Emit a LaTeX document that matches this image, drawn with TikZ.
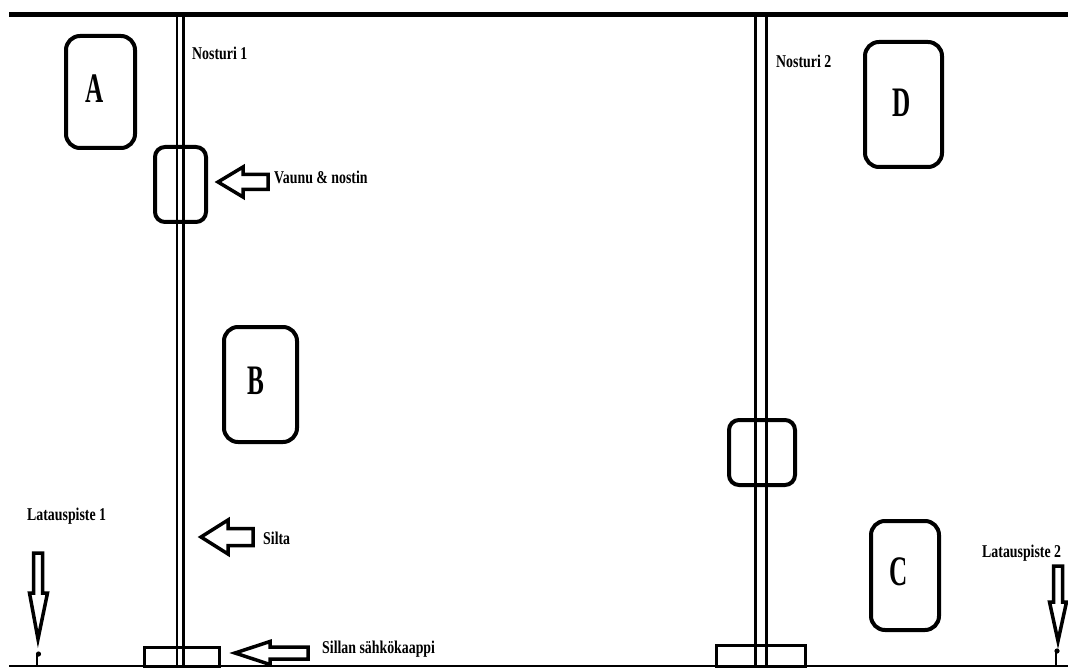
\documentclass[tikz,border=0pt]{standalone}
\usepackage{fontspec}
\newfontfamily\lblfont{Liberation Serif}[FakeStretch=0.77]
\newfontfamily\letfont{Liberation Serif}[FakeStretch=0.6]
\begin{document}
\begin{tikzpicture}[x=1pt,y=-1pt,
  rail/.style={line width=5pt},
  ground/.style={line width=2pt},
  beam/.style={line width=2.5pt},
  area/.style={draw,line width=4pt,rounded corners=14pt,minimum width=#1,inner sep=0pt},
  trolley/.style={draw,line width=4pt,rounded corners=10pt,inner sep=0pt},
  basebox/.style={draw,line width=3pt,inner sep=0pt},
  pointer/.style={line width=3.5pt,line join=miter},
  lbl/.style={inner sep=0pt,anchor=base west,font=\lblfont\bfseries\fontsize{18}{18}\selectfont},
  letter/.style={inner sep=0pt,anchor=base,font=\letfont\bfseries\fontsize{42}{42}\selectfont},
  pin/.style={line width=2pt}
]
\useasboundingbox (0,0) rectangle (1068,668);
\fill[white] (0,0) rectangle (1068,668);

% top runway and ground
\coordinate (tl) at (9,14.5);
\coordinate (tr) at (1068,14.5);
\coordinate (bl) at (9,666);
\coordinate (br) at (1068,666);
\draw[rail] (tl) -- (tr);
\draw[ground] (bl) -- (br);

% bridges (double lines)
\draw[beam] (177,14) -- (177,666);
\draw[beam] (183.3,14) -- (183.3,666);
\draw[beam] (755.5,14) -- (755.5,666);
\draw[beam] (766.3,14) -- (766.3,666);

% trolleys
\node[trolley,minimum width=51pt,minimum height=75pt] (t1) at (180.5,184.5) {};
\node[trolley,minimum width=66pt,minimum height=65pt] (t2) at (762,452.5) {};

% bridge bases
\node[basebox,minimum width=75pt,minimum height=19pt] (b1) at (181.5,656.5) {};
\node[basebox,minimum width=89pt,minimum height=22pt] (b2) at (760.5,656) {};

% areas
\node[area=69pt,minimum height=112pt] (A) at (100.5,92) {};
\node[area=73pt,minimum height=115pt] (B) at (260.5,384.5) {};
\node[area=68pt,minimum height=109pt] (C) at (905,575.5) {};
\node[area=77pt,minimum height=125pt] (D) at (903.5,104.5) {};
\node[letter] (lA) at (95,103) {A};
\node[letter] (lB) at (256,394) {B};
\node[letter] (lC) at (899,585) {C};
\node[letter] (lD) at (902,117) {D};

% labels
\node[lbl] (n1) at (192,60) {Nosturi 1};
\node[lbl] (n2) at (776,68) {Nosturi 2};
\node[lbl] (vn) at (274,184) {Vaunu \& nostin};
\node[lbl] (si) at (263,544) {Silta};
\node[lbl] (sk) at (322,653) {Sillan sähkökaappi};
\node[lbl] (l1) at (27,520) {Latauspiste 1};
\node[lbl] (l2) at (982,557) {Latauspiste 2};

% pointer arrows (left)
\draw[pointer] (218,182) -- (243,167) -- (243,174.5) -- (268,174.5) -- (268,189.5) -- (243,189.5) -- (243,197) -- cycle;
\draw[pointer] (201,537) -- (228,520) -- (228,528.5) -- (253,528.5) -- (253,545.5) -- (228,545.5) -- (228,554) -- cycle;
\draw[pointer] (235,653) -- (270,641.5) -- (270,647) -- (308,647) -- (308,659) -- (270,659) -- (270,664.5) -- cycle;

% pointer arrows (down)
\draw[pointer] (38,639) -- (29.5,593) -- (33.5,593) -- (33.5,553) -- (42.5,553) -- (42.5,593) -- (47.5,593) -- cycle;
\draw[pointer] (1058,641) -- (1049.5,602) -- (1053.5,602) -- (1053.5,566) -- (1062.5,566) -- (1062.5,602) -- (1066.5,602) -- cycle;

% charging points
\coordinate (p1) at (38.5,654);
\coordinate (p2) at (1057,651);
\draw[pin] (37,655) -- (37,666);
\fill (p1) circle (2.6pt);
\draw[pin] (1055.5,652) -- (1055.5,666);
\fill (p2) circle (2.6pt);
\end{tikzpicture}
\end{document}
